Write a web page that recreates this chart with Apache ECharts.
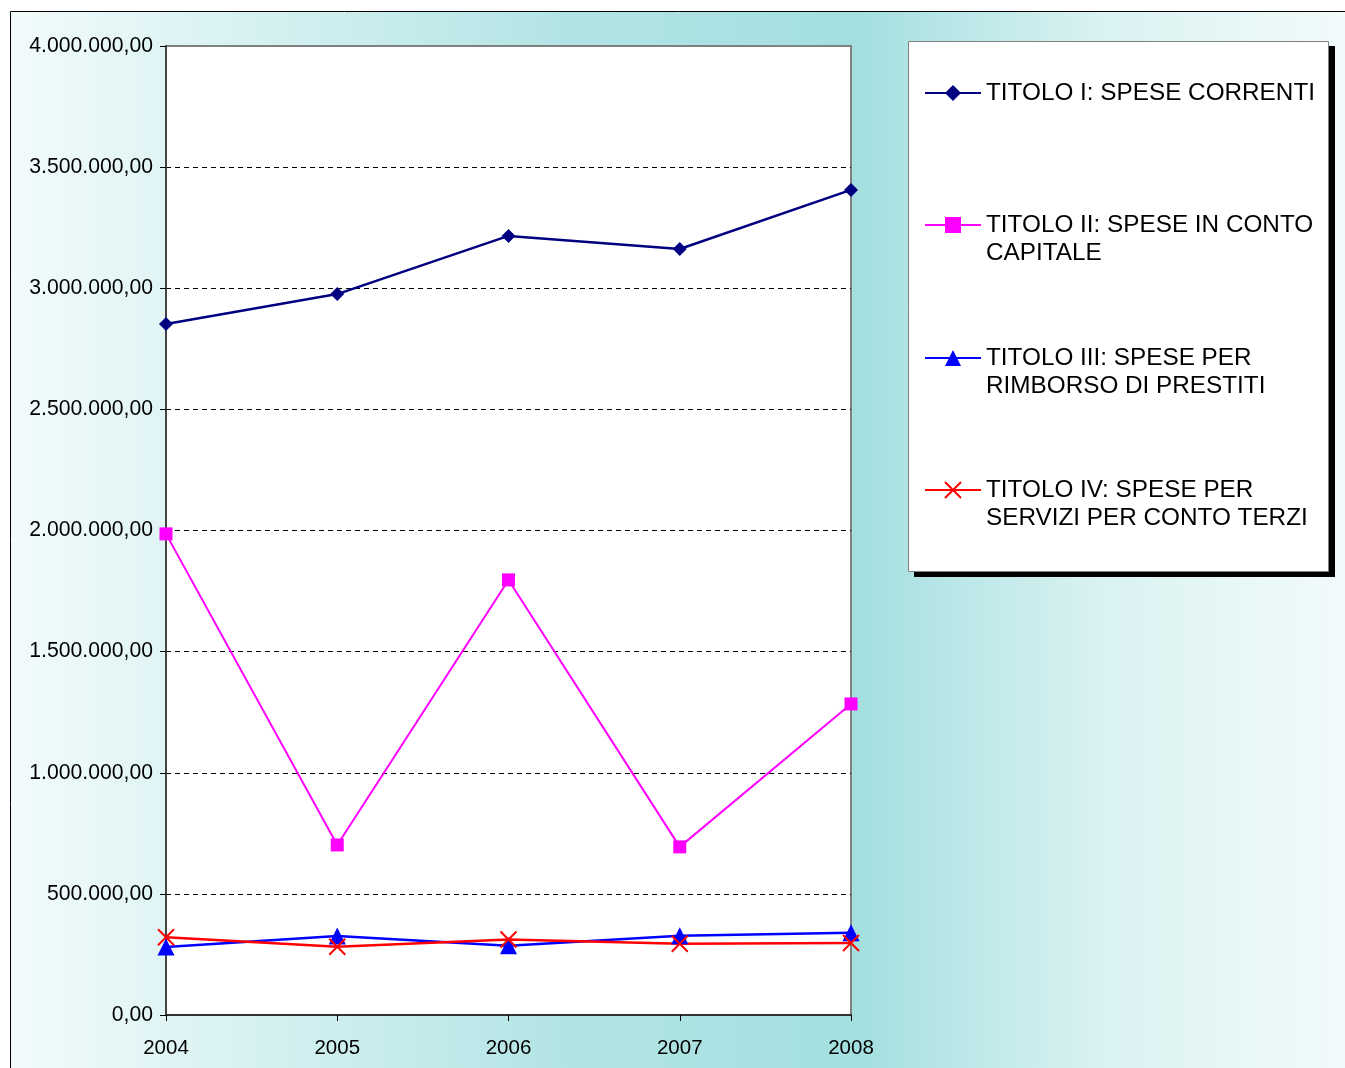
<!DOCTYPE html>
<html>
<head>
<meta charset="utf-8">
<script src="https://cdn.jsdelivr.net/npm/echarts@6/dist/echarts.min.js"></script>
<style>
html,body{margin:0;padding:0;background:#fff;}
#chart{width:1345px;height:1068px;}
</style>
</head>
<body>
<div id="chart"></div>
<script>
const years = ['2004', '2005', '2006', '2007', '2008'];
const titoloI = [2852000, 2976000, 3216000, 3162000, 3406000];
const titoloII = [1986000, 702000, 1796000, 694000, 1284000];
const titoloIII = [281000, 326000, 286000, 327000, 340000];
const titoloIV = [321000, 282000, 312000, 294000, 297000];
const seriesNames = [
  'TITOLO I: SPESE CORRENTI',
  'TITOLO II: SPESE IN CONTO CAPITALE',
  'TITOLO III: SPESE PER RIMBORSO DI PRESTITI',
  'TITOLO IV: SPESE PER SERVIZI PER CONTO TERZI'
];
const legendLabels = [
  'TITOLO I: SPESE CORRENTI',
  ' \nTITOLO II: SPESE IN CONTO\nCAPITALE',
  ' \nTITOLO III: SPESE PER\nRIMBORSO DI PRESTITI',
  ' \nTITOLO IV: SPESE PER\nSERVIZI PER CONTO TERZI'
];

function fmtIt(v) {
  const parts = Math.round(v).toString().replace(/\B(?=(\d{3})+(?!\d))/g, '.');
  return parts + ',00';
}

const chart = echarts.init(document.getElementById('chart'), null, {renderer: 'canvas'});
const FONT = '"Liberation Sans", Arial, sans-serif';

function legendFor(i, top) {
  return {
    data: [seriesNames[i]],
    left: 924,
    top: top,
    orient: 'vertical',
    padding: 0,
    itemWidth: 56,
    itemHeight: 20,
    formatter: function () { return legendLabels[i]; },
    textStyle: {
      fontFamily: FONT, fontSize: 24.3, color: '#000', lineHeight: 28
    },
    selectedMode: false,
    z: 10
  };
}

const option = {
  animation: false,
  graphic: [
    {
      type: 'rect', z: -100, silent: true,
      shape: {x: 10.5, y: 11.5, width: 1345, height: 1070},
      style: {
        fill: new echarts.graphic.LinearGradient(0, 0, 1, 0, [
          {offset: 0, color: '#f2fbfb'},
          {offset: 0.29, color: '#c6ebec'},
          {offset: 0.41, color: '#b3e4e5'},
          {offset: 0.63, color: '#a4dfe0'},
          {offset: 0.81, color: '#daf2f2'},
          {offset: 1, color: '#f3fbfb'}
        ]),
        stroke: '#000', lineWidth: 1
      }
    },
    {
      type: 'rect', z: 4, silent: true,
      shape: {x: 914, y: 46, width: 421, height: 531},
      style: {fill: '#000'}
    },
    {
      type: 'rect', z: 5, silent: true,
      shape: {x: 908.5, y: 41.5, width: 420, height: 530},
      style: {fill: '#fff', stroke: '#808080', lineWidth: 1}
    }
  ],
  legend: [
    legendFor(0, 79),
    legendFor(1, 183),
    legendFor(2, 316),
    legendFor(3, 448)
  ],
  grid: {
    left: 166, top: 46, right: 494, bottom: 53,
    show: true, backgroundColor: '#fff', borderColor: '#808080', borderWidth: 2
  },
  xAxis: {
    type: 'category',
    data: years,
    boundaryGap: false,
    axisLine: {lineStyle: {color: '#333', width: 2}},
    axisTick: {show: true, length: 6, lineStyle: {color: '#000', width: 1}},
    axisLabel: {color: '#000', fontFamily: FONT, fontSize: 20.5, margin: 23},
    splitLine: {show: false}
  },
  yAxis: {
    type: 'value',
    min: 0, max: 4000000, interval: 500000,
    axisLine: {show: true, lineStyle: {color: '#444', width: 2}},
    axisTick: {show: true, length: 6, lineStyle: {color: '#000', width: 1}},
    axisLabel: {color: '#000', fontFamily: FONT, fontSize: 21.2, margin: 13, formatter: fmtIt},
    splitLine: {show: true, showMaxLine: false, lineStyle: {color: '#000', width: 1, type: [5, 4]}}
  },
  series: [
    {
      name: seriesNames[0], type: 'line', data: titoloI,
      symbol: 'diamond', symbolSize: 14,
      itemStyle: {color: '#000080'},
      lineStyle: {color: '#000080', width: 2.5}
    },
    {
      name: seriesNames[1], type: 'line', data: titoloII,
      symbol: 'rect', symbolSize: 13,
      itemStyle: {color: '#ff00ff'},
      lineStyle: {color: '#ff00ff', width: 2}
    },
    {
      name: seriesNames[2], type: 'line', data: titoloIII,
      symbol: 'triangle', symbolSize: 17,
      itemStyle: {color: '#0000ff'},
      lineStyle: {color: '#0000ff', width: 2.5}
    },
    {
      name: seriesNames[3], type: 'line', data: titoloIV,
      symbol: 'path://M0,0L10,10M10,0L0,10', symbolSize: 16,
      itemStyle: {color: 'rgba(0,0,0,0)', borderColor: '#ff0000', borderWidth: 2},
      lineStyle: {color: '#ff0000', width: 2.5}
    }
  ]
};
chart.setOption(option);
</script>
</body>
</html>
